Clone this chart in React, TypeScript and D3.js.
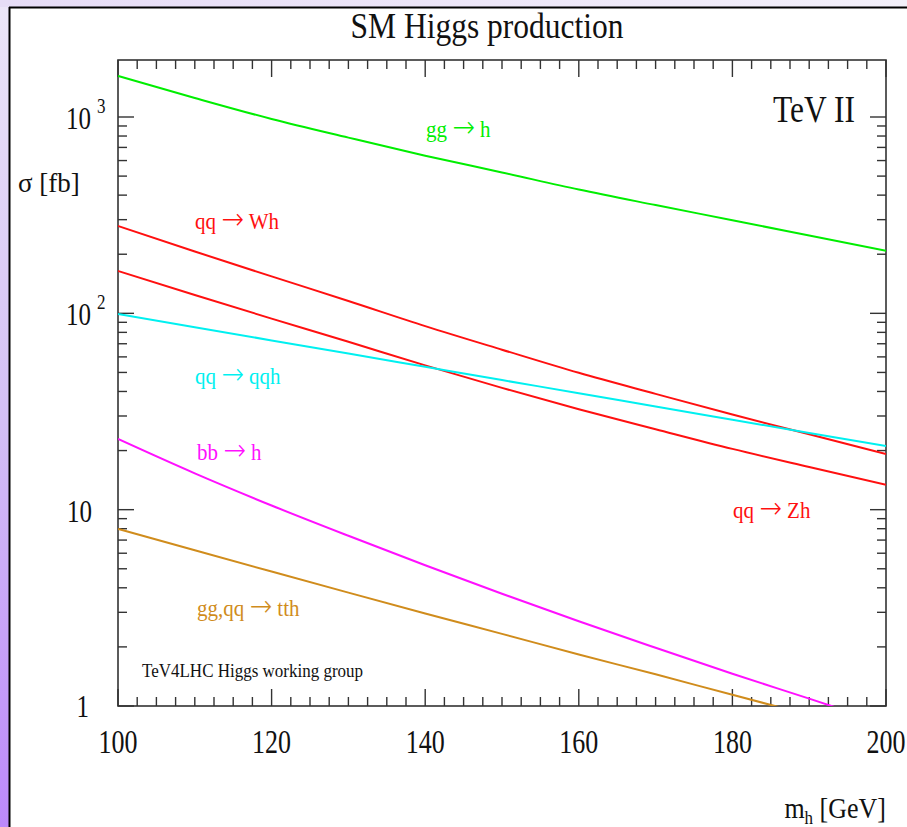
import React from "react";
import * as d3 from "d3";

// Higgs mass grid [GeV]
const massGrid = [100, 110, 120, 130, 140, 150, 160, 170, 180, 190, 200];

// Cross sections [fb] at the Tevatron Run II
const ggH = [1618, 1250, 977, 785, 635, 522, 427, 356, 298, 249, 208];
const qqWh = [278.6, 206.5, 154.2, 115.6, 86.1, 65.3, 49.8, 38.9, 30.5, 24.2, 19.2];
const qqZh = [164.4, 123.9, 94.0, 71.6, 54.3, 41.7, 32.5, 25.7, 20.4, 16.5, 13.4];
const qqQqh = [99.3, 85.0, 72.8, 62.4, 53.4, 45.7, 39.2, 33.5, 28.7, 24.6, 21.1];
const bbH = [22.9, 15.3, 10.5, 7.36, 5.21, 3.73, 2.70, 1.98, 1.46, 1.09, 0.81];
const ttH = [7.98, 6.21, 4.84, 3.78, 2.96, 2.33, 1.83, 1.45, 1.14, 0.90, 0.71];

const xTickLabels = [100, 120, 140, 160, 180, 200];

// process labels: initial state, final state
const series = [
  { from: "gg", to: "h", values: ggH, color: "#00ee00", lx: 426, ly: 137 },
  { from: "qq", to: "Wh", values: qqWh, color: "#ff1010", lx: 195, ly: 229 },
  { from: "qq", to: "Zh", values: qqZh, color: "#ff1010", lx: 733, ly: 518 },
  { from: "qq", to: "qqh", values: qqQqh, color: "#00f0f0", lx: 195, ly: 384 },
  { from: "bb", to: "h", values: bbH, color: "#ff10ff", lx: 197, ly: 460 },
  { from: "gg,qq", to: "tth", values: ttH, color: "#d08c1c", lx: 197, ly: 616 },
];

const W = 907;
const H = 827;
const left = 118;
const right = 886;
const top = 60;
const bottom = 706;

const SERIF = "'Liberation Serif','Times New Roman',Times,serif";

function Txt(props: {
  x: number;
  y: number;
  size: number;
  sy?: number;
  anchor?: string;
  fill?: string;
  children: React.ReactNode;
}) {
  const { x, y, size, sy = 1.2, anchor = "start", fill = "#111", children } = props;
  return (
    <text
      transform={`translate(${x},${y}) scale(1,${sy})`}
      fontSize={size}
      fontFamily={SERIF}
      textAnchor={anchor}
      fill={fill}
    >
      {children}
    </text>
  );
}

export default function App() {
  const x = d3.scaleLinear().domain([100, 200]).range([left, right]);
  // one decade spans (bottom - 117) / 3 pixels; the frame top sits a bit above 10^3
  const yMax = Math.pow(10, (bottom - top) / ((bottom - 117) / 3));
  const y = d3.scaleLog().domain([1, yMax]).range([bottom, top]);

  const line = d3
    .line<[number, number]>()
    .x((d) => x(d[0]))
    .y((d) => y(d[1]))
    .curve(d3.curveMonotoneX);

  const xMinor = d3.range(100, 200.001, 2.5);
  const yMinor: number[] = [];
  for (const dec of [1, 10, 100, 1000]) {
    for (let k = 1; k <= 9; k++) {
      const v = dec * k;
      if (v >= 1 && v <= yMax) yMinor.push(v);
    }
  }

  const tickColor = "#333";

  return (
    <svg
      width={W}
      height={H}
      style={{ position: "absolute", left: 0, top: 0, display: "block" }}
    >
      <defs>
        <linearGradient id="bgGrad" x1="0" y1="0" x2="0.15" y2="1">
          <stop offset="0" stopColor="#ece6f8" />
          <stop offset="0.5" stopColor="#d3bff5" />
          <stop offset="1" stopColor="#bb86fb" />
        </linearGradient>
        <linearGradient id="topGrad" x1="0" y1="0" x2="1" y2="0">
          <stop offset="0" stopColor="#e6dcf6" />
          <stop offset="1" stopColor="#f3f0fa" />
        </linearGradient>
        <clipPath id="plotClip">
          <rect x={left} y={top} width={right - left} height={bottom - top} />
        </clipPath>
      </defs>

      {/* slide background */}
      <rect x={0} y={0} width={W} height={H} fill="url(#bgGrad)" />
      <rect x={0} y={0} width={W} height={7} fill="url(#topGrad)" />
      <rect x={10} y={8} width={W - 10} height={H - 8} fill="#ffffff" />
      <line x1={9.5} y1={7} x2={9.5} y2={H} stroke="#000" strokeWidth={2} />
      <line x1={9} y1={7.5} x2={W} y2={7.5} stroke="#000" strokeWidth={2} />

      {/* title */}
      <Txt x={(left + right) / 2 - 15} y={38} size={31.5} sy={1.14} anchor="middle">
        SM Higgs production
      </Txt>

      {/* frame */}
      <rect
        x={left}
        y={top}
        width={right - left}
        height={bottom - top}
        fill="none"
        stroke={tickColor}
        strokeWidth={1.6}
      />

      {/* x ticks, top and bottom */}
      {xMinor.map((v) => {
        const major = Math.abs(v % 20) < 1e-6;
        const len = major ? 17 : 9;
        return (
          <g key={"xt" + v} stroke={tickColor} strokeWidth={1.4}>
            <line x1={x(v)} x2={x(v)} y1={bottom} y2={bottom - len} />
            <line x1={x(v)} x2={x(v)} y1={top} y2={top + len} />
          </g>
        );
      })}

      {/* y ticks, left and right */}
      {yMinor.map((v) => {
        const major = [1, 10, 100, 1000].includes(v);
        const len = major ? 16 : 9;
        return (
          <g key={"yt" + v} stroke={tickColor} strokeWidth={1.4}>
            <line x1={left} x2={left + len} y1={y(v)} y2={y(v)} />
            <line x1={right} x2={right - len} y1={y(v)} y2={y(v)} />
          </g>
        );
      })}

      {/* x tick labels */}
      {xTickLabels.map((v) => (
        <Txt key={"xl" + v} x={x(v)} y={753} size={26} sy={1.3} anchor="middle">
          {String(v)}
        </Txt>
      ))}

      {/* y tick labels */}
      <Txt x={91} y={y(1000) + 12} size={25} sy={1.3} anchor="end">10</Txt>
      <Txt x={97} y={y(1000) - 4} size={17} sy={1.25}>3</Txt>
      <Txt x={91} y={y(100) + 12} size={25} sy={1.3} anchor="end">10</Txt>
      <Txt x={97} y={y(100) - 4} size={17} sy={1.25}>2</Txt>
      <Txt x={92} y={y(10) + 12} size={25} sy={1.3} anchor="end">10</Txt>
      <Txt x={89} y={y(1) + 11} size={25} sy={1.3} anchor="end">1</Txt>

      {/* axis titles */}
      <Txt x={18} y={192} size={27} sy={1.05}>σ [fb]</Txt>
      <Txt x={886} y={818} size={26} sy={1.12} anchor="end">
        m<tspan fontSize={17} dy={5}>h</tspan>
        <tspan dy={-5}> [GeV]</tspan>
      </Txt>

      {/* curves */}
      <g clipPath="url(#plotClip)" fill="none">
        {series.map((s) => (
          <path
            key={s.from + s.to + s.lx}
            d={line(massGrid.map((m, i) => [m, s.values[i]]) as [number, number][]) || ""}
            stroke={s.color}
            strokeWidth={2}
          />
        ))}
      </g>

      {/* curve labels */}
      {series.map((s) => (
        <Txt key={"lbl" + s.from + s.to + s.lx} x={s.lx} y={s.ly} size={21} sy={1.1} fill={s.color}>
          {s.from + " "}
          <tspan fontFamily="'DejaVu Sans',sans-serif" fontSize={27} fontWeight={200}>
            →
          </tspan>
          {" " + s.to}
        </Txt>
      ))}

      <Txt x={855} y={122} size={31.5} sy={1.2} anchor="end">TeV II</Txt>
      <Txt x={142} y={677} size={17} sy={1.1}>TeV4LHC Higgs working group</Txt>
    </svg>
  );
}
